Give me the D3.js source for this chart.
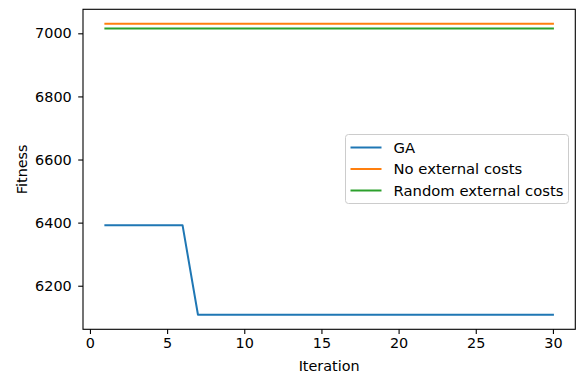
<!DOCTYPE html>
<html>
<head>
<meta charset="utf-8">
<script src="https://cdn.jsdelivr.net/npm/d3@7"></script>
<style>
  body { margin: 0; background: #fff; }
  svg text { font-family: "DejaVu Sans", sans-serif; }
</style>
</head>
<body>
<div id="graphic"></div>
<script>
var iterations = d3.range(1, 31);
var gaValues = [6392, 6392, 6392, 6392, 6392, 6392,
  6108, 6108, 6108, 6108, 6108, 6108, 6108, 6108, 6108, 6108, 6108, 6108,
  6108, 6108, 6108, 6108, 6108, 6108, 6108, 6108, 6108, 6108, 6108, 6108];
var noExtValues = iterations.map(function() { return 7030; });
var randExtValues = iterations.map(function() { return 7015; });
var seriesNames = ["GA", "No external costs", "Random external costs"];
var seriesColors = ["#1f77b4", "#ff7f0e", "#2ca02c"];
var xTicks = [0, 5, 10, 15, 20, 25, 30];
var yTicks = [6200, 6400, 6600, 6800, 7000];

var width = 584, height = 375;
var margin = {top: 9.3, right: 8.7, bottom: 45.7, left: 83};
var fontSize = "14.4px";

var svg = d3.select("#graphic").append("svg")
  .attr("width", width)
  .attr("height", height);

var x = d3.scaleLinear()
  .domain([1 - 29 * 0.05, 30 + 29 * 0.05])
  .range([margin.left, width - margin.right]);

var allVals = gaValues.concat(noExtValues, randExtValues);
var yMin = d3.min(allVals), yMax = d3.max(allVals);
var pad = (yMax - yMin) * 0.05;
var y = d3.scaleLinear()
  .domain([yMin - pad, yMax + pad])
  .range([height - margin.bottom, margin.top]);

var line = d3.line()
  .x(function(d, i) { return x(iterations[i]); })
  .y(function(d) { return y(d); });

var allSeries = [gaValues, noExtValues, randExtValues];
allSeries.forEach(function(vals, i) {
  svg.append("path")
    .datum(vals)
    .attr("d", line)
    .attr("fill", "none")
    .attr("stroke", seriesColors[i])
    .attr("stroke-width", 2)
    .attr("stroke-linejoin", "round")
    .attr("stroke-linecap", "square");
});

var xAxis = svg.append("g")
  .attr("transform", "translate(0," + (height - margin.bottom) + ")")
  .call(d3.axisBottom(x).tickValues(xTicks).tickSize(4.8).tickPadding(4));
var yAxis = svg.append("g")
  .attr("transform", "translate(" + margin.left + ",0)")
  .call(d3.axisLeft(y).tickValues(yTicks).tickSize(4.8).tickPadding(6.5).tickFormat(d3.format("d")));

[xAxis, yAxis].forEach(function(a) {
  a.select(".domain").remove();
  a.selectAll(".tick line").attr("stroke", "#000").attr("stroke-width", 1.1);
  a.selectAll(".tick text").attr("fill", "#000").style("font-size", fontSize);
});

// frame
svg.append("rect")
  .attr("x", margin.left)
  .attr("y", margin.top)
  .attr("width", width - margin.left - margin.right)
  .attr("height", height - margin.top - margin.bottom)
  .attr("fill", "none")
  .attr("stroke", "#000")
  .attr("stroke-width", 1.1);

svg.append("text")
  .attr("x", (margin.left + width - margin.right) / 2)
  .attr("y", 370.5)
  .attr("text-anchor", "middle")
  .style("font-size", fontSize)
  .text("Iteration");

svg.append("text")
  .attr("transform", "translate(27," + ((margin.top + height - margin.bottom) / 2) + ") rotate(-90)")
  .attr("text-anchor", "middle")
  .style("font-size", fontSize)
  .text("Fitness");

// legend
var legend = svg.append("g").attr("transform", "translate(345.5,134.5)");
legend.append("rect")
  .attr("width", 223)
  .attr("height", 69)
  .attr("rx", 3)
  .attr("fill", "#fff")
  .attr("fill-opacity", 0.8)
  .attr("stroke", "#ccc")
  .attr("stroke-width", 1);

seriesNames.forEach(function(name, i) {
  var ly = 13 + i * 21.5;
  legend.append("line")
    .attr("x1", 5).attr("x2", 36)
    .attr("y1", ly).attr("y2", ly)
    .attr("stroke", seriesColors[i])
    .attr("stroke-width", 2);
  legend.append("text")
    .attr("x", 48)
    .attr("y", ly + 5)
    .style("font-size", "14.8px")
    .text(name);
});
</script>
</body>
</html>
